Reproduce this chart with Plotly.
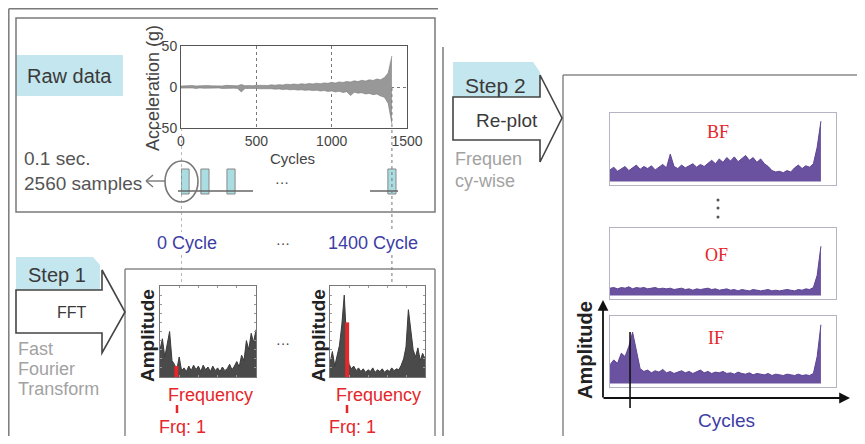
import plotly.graph_objects as go

# page body keeps an 8px margin, so the figure is drawn 8px in from the window edge
WIN_W, WIN_H, OFF = 865, 444, 8
FW, FH = WIN_W - 2 * OFF, WIN_H - 2 * OFF

# ---------------- data ----------------
cycles = [0, 25, 50, 75, 100, 125, 150, 175, 200, 225, 250, 275, 300, 325, 350, 375,
          400, 425, 450, 475, 500, 525, 550, 575, 600, 625, 650, 675, 700, 725, 750, 775,
          800, 825, 850, 875, 900, 925, 950, 975, 1000, 1025, 1050, 1075, 1100, 1125, 1150, 1175,
          1200, 1225, 1250, 1275, 1300, 1325, 1350, 1375, 1400]

raw_upper = [1.2, 1.5, 1.0, 1.8, 1.3, 1.6, 1.1, 1.9, 1.4, 1.2, 1.7, 1.3, 2.0, 1.5, 1.8, 1.4,
             3.0, 1.6, 1.9, 1.5, 2.1, 1.8, 2.3, 1.9, 2.6, 2.2, 2.8, 2.4, 3.4, 2.9, 3.6, 3.1,
             4.0, 3.4, 4.3, 3.7, 4.6, 4.0, 5.0, 4.5, 5.6, 4.9, 6.2, 5.5, 6.8, 6.0, 7.6, 6.6,
             8.2, 7.2, 8.8, 8.0, 9.8, 8.8, 11.5, 17.0, 38.0]
raw_lower = [-1.3, -1.0, -1.6, -1.2, -1.8, -1.1, -1.5, -1.3, -1.9, -1.4, -1.2, -1.8, -1.5, -2.0, -1.4, -1.7,
             -6.0, -1.8, -1.5, -2.0, -1.7, -2.2, -1.9, -2.5, -2.1, -2.7, -2.3, -3.2, -2.6, -3.5, -3.0, -3.8,
             -3.4, -4.1, -3.6, -4.4, -3.9, -4.9, -4.3, -5.4, -4.8, -6.0, -5.2, -6.7, -5.7, -10.5, -6.4, -7.5,
             -7.0, -8.5, -7.8, -9.4, -8.6, -11.0, -12.5, -20.0, -45.0]

raw_xticks = [0, 500, 1000, 1500]
raw_yticks = [-50, 0, 50]
sample_cycles = [27, 159, 332, 1400]       # 0.1 s sampling windows
marked_cycles = [0, 1400]                 # "0 Cycle" ... "1400 Cycle"

fft_freq = [0.0, 0.025, 0.05, 0.075, 0.1, 0.125, 0.15, 0.175, 0.2, 0.225, 0.25, 0.275, 0.3, 0.325,
            0.35, 0.375, 0.4, 0.425, 0.45, 0.475, 0.5, 0.525, 0.55, 0.575, 0.6, 0.625, 0.65, 0.675,
            0.7, 0.725, 0.75, 0.775, 0.8, 0.825, 0.85, 0.875, 0.9, 0.925, 0.95, 0.975, 1.0]
fft0_amp = [0.30, 0.42, 0.22, 0.38, 0.50, 0.18, 0.14, 0.08, 0.22, 0.07, 0.10, 0.06, 0.12, 0.07,
            0.13, 0.08, 0.12, 0.06, 0.13, 0.08, 0.11, 0.06, 0.12, 0.07, 0.10, 0.06, 0.11, 0.07,
            0.09, 0.14, 0.08, 0.12, 0.17, 0.11, 0.24, 0.18, 0.40, 0.30, 0.48, 0.38, 0.52]
fft1400_amp = [0.15, 0.28, 0.12, 0.25, 0.35, 0.58, 0.90, 0.38, 0.14, 0.09, 0.12, 0.07, 0.10, 0.06,
               0.09, 0.05, 0.08, 0.06, 0.10, 0.05, 0.08, 0.06, 0.09, 0.05, 0.08, 0.06, 0.10, 0.07,
               0.09, 0.08, 0.13, 0.20, 0.33, 0.74, 0.50, 0.30, 0.22, 0.32, 0.18, 0.26, 0.20]
frq1_pos = [0.17, 0.18]
frq1_amp = [0.12, 0.60]

bf_amp = [0.17, 0.21, 0.15, 0.19, 0.22, 0.16, 0.20, 0.24, 0.18, 0.22, 0.19, 0.23, 0.17, 0.21, 0.25, 0.20,
          0.40, 0.22, 0.19, 0.24, 0.20, 0.23, 0.26, 0.21, 0.25, 0.22, 0.27, 0.31, 0.26, 0.33, 0.28, 0.35,
          0.30, 0.36, 0.29, 0.34, 0.38, 0.31, 0.35, 0.28, 0.33, 0.26, 0.22, 0.16, 0.14, 0.15, 0.13, 0.16,
          0.14, 0.20, 0.24, 0.19, 0.23, 0.21, 0.26, 0.50, 0.88]
of_amp = [0.11, 0.12, 0.10, 0.12, 0.11, 0.13, 0.10, 0.12, 0.11, 0.12, 0.10, 0.11, 0.12, 0.10, 0.11, 0.10,
          0.11, 0.09, 0.10, 0.11, 0.09, 0.10, 0.08, 0.10, 0.09, 0.10, 0.11, 0.09, 0.10, 0.08, 0.09, 0.10,
          0.08, 0.09, 0.07, 0.09, 0.08, 0.07, 0.09, 0.08, 0.07, 0.08, 0.09, 0.07, 0.08, 0.07, 0.08, 0.09,
          0.08, 0.07, 0.09, 0.08, 0.10, 0.09, 0.12, 0.30, 0.73]
if_amp = [0.28, 0.35, 0.30, 0.45, 0.40, 0.55, 0.76, 0.50, 0.22, 0.18, 0.20, 0.16, 0.19, 0.17, 0.21, 0.16,
          0.18, 0.15, 0.17, 0.19, 0.16, 0.18, 0.15, 0.17, 0.20, 0.16, 0.18, 0.15, 0.17, 0.16, 0.18, 0.15,
          0.16, 0.14, 0.17, 0.15, 0.14, 0.16, 0.13, 0.15, 0.14, 0.13, 0.15, 0.12, 0.14, 0.13, 0.12, 0.14,
          0.13, 0.12, 0.14, 0.12, 0.13, 0.12, 0.15, 0.40, 0.87]
if_mark_cycle = 133

# ---------------- styling ----------------
SANS = "Liberation Sans, Arial, sans-serif"
SERIF = "Liberation Serif, Times New Roman, serif"
DARK = "#3a3a3a"
GRAYTXT = "#a2a2a2"
FRAME = "#7a7a7a"
BLUE = "#3d3da6"
RED = "#e5262a"
LIGHTBLUE = "#c4e6ee"
PURPLE = "#5d4494"


def X(px):
    return (px - OFF) / FW


def Y(py):
    return 1 - (py - OFF) / FH


fig = go.Figure()

# raw acceleration band
fig.add_trace(go.Scatter(x=cycles, y=raw_upper, mode="lines", line=dict(color="#7a7a7a", width=0.6),
                         xaxis="x", yaxis="y", hoverinfo="skip"))
fig.add_trace(go.Scatter(x=cycles, y=raw_lower, mode="lines", line=dict(color="#7a7a7a", width=0.6),
                         fill="tonexty", fillcolor="#989898", xaxis="x", yaxis="y", hoverinfo="skip"))

# FFT spectra, with the "Frq: 1" bin drawn on top in red
for ax, amp, i in (("2", fft0_amp, 0), ("3", fft1400_amp, 1)):
    fig.add_trace(go.Scatter(x=fft_freq, y=amp, mode="lines", line=dict(color="#3a3a3a", width=1),
                             fill="tozeroy", fillcolor="#4a4a4a", xaxis="x" + ax, yaxis="y" + ax))
    fig.add_trace(go.Scatter(x=[frq1_pos[i], frq1_pos[i]], y=[0, frq1_amp[i]], mode="lines",
                             line=dict(color=RED, width=4), xaxis="x" + ax, yaxis="y" + ax))

# frequency-wise re-plots
for ax, amp in (("4", bf_amp), ("5", of_amp), ("6", if_amp)):
    fig.add_trace(go.Scatter(x=cycles, y=amp, mode="lines", line=dict(color=PURPLE, width=1),
                             fill="tozeroy", fillcolor="#6b52a0", xaxis="x" + ax, yaxis="y" + ax))

# ---------------- axes ----------------
lay = dict(width=FW, height=FH, margin=dict(l=0, r=0, t=0, b=0, autoexpand=False),
           paper_bgcolor="white", plot_bgcolor="white", showlegend=False,
           font=dict(family=SANS, color=DARK))

lay["xaxis"] = dict(domain=[X(181), X(407)], range=[0, 1500], tickvals=raw_xticks, anchor="y",
                    showline=True, mirror=True, linecolor="#555", linewidth=1, automargin=False,
                    showgrid=True, griddash="dot", gridcolor="#777", gridwidth=1, zeroline=False,
                    tickfont=dict(size=14, color="#444"), ticks="")
lay["yaxis"] = dict(domain=[Y(128), Y(46)], range=[-50, 50], tickvals=raw_yticks, anchor="x",
                    showline=True, mirror=True, linecolor="#555", linewidth=1, automargin=False,
                    showgrid=True, griddash="dot", gridcolor="#777", zeroline=False,
                    tickfont=dict(size=14, color="#444"), ticks="")

fft_dom = {"2": (160, 256), "3": (330, 425)}
for ax, (a, b) in fft_dom.items():
    lay["xaxis" + ax] = dict(domain=[X(a), X(b)], range=[0, 1], anchor="y" + ax, showline=True,
                             mirror="ticks", linecolor="#777", linewidth=1, showgrid=False,
                             zeroline=False, showticklabels=False, ticks="inside", ticklen=2,
                             tickcolor="#999", dtick=0.2, automargin=False)
    lay["yaxis" + ax] = dict(domain=[Y(377), Y(286)], range=[0, 1], anchor="x" + ax, showline=True,
                             mirror="ticks", linecolor="#777", linewidth=1, showgrid=False,
                             zeroline=False, showticklabels=False, ticks="inside", ticklen=2,
                             tickcolor="#999", dtick=0.1, automargin=False)

right_dom = {"4": (185, 113), "5": (299, 228), "6": (387, 316)}
for ax, (b, t) in right_dom.items():
    lay["xaxis" + ax] = dict(domain=[X(610), X(836)], range=[0, 1500], anchor="y" + ax, showline=True,
                             mirror=True, linecolor="#b4b4c4", linewidth=1, showgrid=False,
                             zeroline=False, showticklabels=False, ticks="", automargin=False)
    lay["yaxis" + ax] = dict(domain=[Y(b), Y(t)], range=[-0.05, 1.0], anchor="x" + ax, showline=True,
                             mirror=True, linecolor="#b4b4c4", linewidth=1, showgrid=False,
                             zeroline=False, showticklabels=False, ticks="", automargin=False)

# ---------------- shapes ----------------
shapes = []


def line(x0, y0, x1, y1, color=FRAME, width=1.5, dash="solid"):
    shapes.append(dict(type="line", xref="paper", yref="paper", x0=X(x0), y0=Y(y0), x1=X(x1), y1=Y(y1),
                       line=dict(color=color, width=width, dash=dash), layer="above"))


def rect(x0, y0, x1, y1, color=FRAME, width=1.5, fill=None, layer="above"):
    d = dict(type="rect", xref="paper", yref="paper", x0=X(x0), y0=Y(y0), x1=X(x1), y1=Y(y1),
             line=dict(color=color, width=width), layer=layer)
    if fill:
        d["fillcolor"] = fill
    shapes.append(d)


def poly(pts, color=None, width=0, fill=None, layer="above"):
    p = "M " + " L ".join(f"{X(a):.5f},{Y(b):.5f}" for a, b in pts) + " Z"
    d = dict(type="path", xref="paper", yref="paper", path=p, layer=layer,
             line=dict(color=color or "rgba(0,0,0,0)", width=width))
    if fill:
        d["fillcolor"] = fill
    shapes.append(d)


# outer frames (bottom edges of the lower boxes fall below the drawable area)
line(8.8, 8.8, 8.8, 444)
line(8.8, 8.8, 438, 8.8)
line(443, 47, 443, 444)
rect(16, 18, 435, 212)
line(125, 269, 435, 269, color="#888")
line(125, 269, 125, 444, color="#888")
line(435, 269, 435, 444, color="#888")
line(563, 75, 872, 75, color="#888")
line(563, 75, 563, 444, color="#888")

# "Raw data" label background
rect(16, 55, 123, 96, width=0, color="rgba(0,0,0,0)", fill=LIGHTBLUE, layer="below")

# Step 1 tab and arrow
poly([(16, 257), (93, 257), (100, 265), (100, 290), (16, 290)], fill=LIGHTBLUE, layer="below")
poly([(16, 290), (102, 290), (102, 270), (125, 312), (102, 353), (102, 333), (16, 333)],
     color="#444", width=1.6)
# Step 2 tab and arrow
poly([(453, 62), (533, 62), (540, 72), (540, 97), (453, 97)], fill=LIGHTBLUE, layer="below")
poly([(453, 97), (540, 97), (540, 75), (562, 118), (540, 162), (540, 140), (453, 140)],
     color="#444", width=1.6)

# sampling windows
for c in sample_cycles:
    shapes.append(dict(type="rect", xref="x", yref="paper", x0=c - 27, x1=c + 27, y0=Y(194), y1=Y(169),
                       line=dict(color="#888", width=1), fillcolor="#a9dde1", layer="above"))
line(178, 191, 253, 191, color="#666", width=1.5)
line(370, 191, 398, 191, color="#666", width=1.5)
shapes.append(dict(type="circle", xref="paper", yref="paper", x0=X(165), x1=X(198), y0=Y(202), y1=Y(161),
                   line=dict(color="#777", width=1.6)))
line(146, 181, 165, 181, color="#777", width=1.4)
line(146, 181, 153, 175, color="#777", width=1.4)
line(146, 181, 153, 187, color="#777", width=1.4)

# dotted guide lines at 0 and 1400 cycles
for c, top in zip(marked_cycles, (128, 88)):
    for y0, y1 in ((top, 232), (255, 286)):
        shapes.append(dict(type="line", xref="x", yref="paper", x0=c, x1=c, y0=Y(y0), y1=Y(y1),
                           line=dict(color="#777", width=1, dash="dot"), layer="above"))

# red ticks under "Frequency"
line(177, 405, 177, 413, color=RED, width=2.5)
line(347, 405, 347, 413, color=RED, width=2.5)

# vertical dots between BF and OF
for yy in (200, 208, 217):
    shapes.append(dict(type="circle", xref="paper", yref="paper", x0=X(716.5), x1=X(719.5),
                       y0=Y(yy + 1.5), y1=Y(yy - 1.5), fillcolor="#555", line=dict(width=0)))

# IF marker line
shapes.append(dict(type="line", xref="x6", yref="paper", x0=if_mark_cycle, x1=if_mark_cycle,
                   y0=Y(408), y1=Y(332), line=dict(color="#111", width=1.6), layer="above"))

lay["shapes"] = shapes

# ---------------- annotations ----------------
ann = []


def text(px, py, s, size=16, color=DARK, xanchor="center", angle=0, family=SANS):
    ann.append(dict(x=X(px), y=Y(py), xref="paper", yref="paper", text=s, showarrow=False,
                    font=dict(size=size, color=color, family=family), xanchor=xanchor,
                    yanchor="middle", textangle=angle))


text(25, 76, "Raw data", 20, DARK, "left")
text(153, 88, "Acceleration (g)", 18, "#444", angle=-90)
text(292, 158, "Cycles", 15, "#444")
text(22, 158, "0.1 sec.", 19, "#555", "left")
text(22, 183, "2560 samples", 19, "#555", "left")
text(282, 182, "···", 14, "#444")
text(187, 243, "0 Cycle", 18, BLUE)
text(283, 243, "···", 14, "#444")
text(373, 243, "1400 Cycle", 18, BLUE)

text(26, 275, "Step 1", 20, DARK, "left")
text(72, 312, "FFT", 16, DARK)
text(16, 349, "Fast", 18, GRAYTXT, "left")
text(16, 369, "Fourier", 18, GRAYTXT, "left")
text(16, 389, "Transform", 18, GRAYTXT, "left")
text(147, 336, "<b>Amplitude</b>", 19, "#222", angle=-90)
text(318, 336, "<b>Amplitude</b>", 19, "#222", angle=-90)
text(210, 395, "Frequency", 18, RED)
text(378, 395, "Frequency", 18, RED)
text(182, 427, "Frq: 1", 18, RED)
text(352, 427, "Frq: 1", 18, RED)
text(283, 343, "···", 14, "#444")

text(463, 85, "Step 2", 21, DARK, "left")
text(507, 121, "Re-plot", 19, DARK)
text(453, 159, "Frequen", 18, GRAYTXT, "left")
text(453, 181, "cy-wise", 18, GRAYTXT, "left")
text(718, 132, "BF", 18, RED, family=SERIF)
text(716, 255, "OF", 18, RED, family=SERIF)
text(716, 338, "IF", 18, RED, family=SERIF)
text(585, 350, "<b>Amplitude</b>", 20, "#222", angle=-90)
text(726, 420, "Cycles", 19, BLUE)

# axis arrows
ann.append(dict(x=X(603), y=Y(300), xref="paper", yref="paper", ax=0, ay=99, text="", showarrow=True,
                arrowhead=2, arrowsize=1.2, arrowwidth=1.8, arrowcolor="#111"))
ann.append(dict(x=X(850), y=Y(398), xref="paper", yref="paper", ax=-248, ay=0, text="", showarrow=True,
                arrowhead=2, arrowsize=1.2, arrowwidth=1.8, arrowcolor="#111"))

lay["annotations"] = ann
fig.update_layout(**lay)

fig.write_html("out.html")
